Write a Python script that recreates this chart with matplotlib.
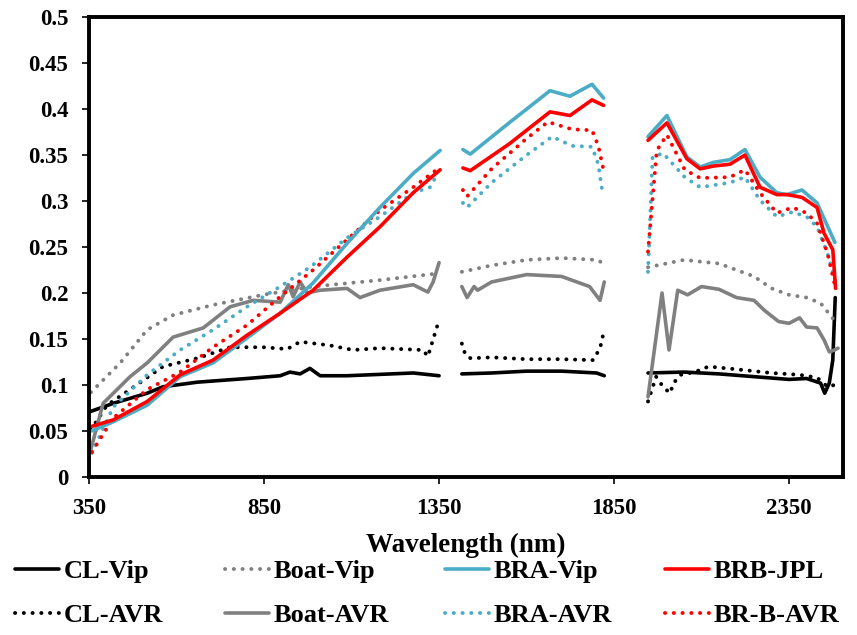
import numpy as np
import matplotlib
matplotlib.use("Agg")
import matplotlib.pyplot as plt

nan = np.nan
# ---- data (wavelength in nm, reflectance); nan marks gaps ----
cl_vip_wl = [353, 419, 516, 561, 659, 801, 896, 924, 953, 981, 1010, 1087, 1276, 1350, nan,
             1415, 1500, 1600, 1700, 1800, 1822, nan,
             1947, 2050, 2150, 2250, 2350, 2400, 2440, 2452, 2465, 2475, 2482]
cl_vip = [0.071, 0.080, 0.091, 0.098, 0.103, 0.107, 0.110, 0.114, 0.112, 0.118, 0.110, 0.110, 0.113, 0.110, nan,
          0.112, 0.113, 0.115, 0.115, 0.113, 0.110, nan,
          0.113, 0.114, 0.112, 0.109, 0.106, 0.107, 0.102, 0.091, 0.102, 0.127, 0.195]

cl_avr_wl = [355, 401, 467, 561, 659, 753, 847, 916, 953, 1038, 1104, 1181, 1304, 1318, 1347, nan,
             1415, 1425, 1440, 1500, 1600, 1700, 1790, 1810, 1822, nan,
             1947, 1960, 1970, 1990, 2010, 2020, 2040, 2080, 2120, 2200, 2300, 2380, 2430, 2460, 2480]
cl_avr = [0.051, 0.078, 0.095, 0.120, 0.129, 0.141, 0.141, 0.139, 0.147, 0.143, 0.138, 0.140, 0.138, 0.131, 0.167, nan,
          0.145, 0.133, 0.129, 0.130, 0.128, 0.128, 0.127, 0.140, 0.160, nan,
          0.082, 0.097, 0.109, 0.098, 0.091, 0.102, 0.111, 0.114, 0.120, 0.117, 0.113, 0.111, 0.108, 0.098, 0.100]

boat_vip_wl = [355, 439, 516, 590, 704, 847, 990, 1181, 1340, nan,
               1415, 1500, 1600, 1700, 1800, 1822, nan,
               1947, 2050, 2150, 2200, 2250, 2300, 2350, 2400, 2440, 2480]
boat_vip = [0.092, 0.124, 0.160, 0.176, 0.187, 0.198, 0.207, 0.214, 0.221, nan,
            0.223, 0.230, 0.236, 0.238, 0.236, 0.232, nan,
            0.228, 0.236, 0.232, 0.225, 0.218, 0.205, 0.198, 0.195, 0.189, 0.170]

boat_avr_wl = [355, 390, 467, 516, 590, 676, 753, 819, 896, 919, 933, 953, 973, 1010, 1087, 1124, 1181, 1276, 1318, 1333, 1350, nan,
               1415, 1430, 1450, 1460, 1500, 1600, 1700, 1780, 1810, 1822, nan,
               1947, 1987, 2007, 2032, 2060, 2100, 2150, 2200, 2250, 2280, 2320, 2350, 2380, 2400, 2430, 2450, 2465, 2480, 2490]
boat_avr = [0.030, 0.080, 0.109, 0.124, 0.152, 0.162, 0.185, 0.192, 0.190, 0.209, 0.196, 0.212, 0.200, 0.203, 0.205, 0.195, 0.203, 0.209, 0.201, 0.212, 0.233, nan,
            0.207, 0.195, 0.207, 0.203, 0.212, 0.220, 0.218, 0.207, 0.192, 0.212, nan,
            0.087, 0.200, 0.138, 0.203, 0.198, 0.207, 0.204, 0.195, 0.192, 0.181, 0.169, 0.167, 0.173, 0.163, 0.162, 0.149, 0.136, 0.138, 0.140]

bra_vip_wl = [358, 419, 516, 610, 704, 801, 896, 990, 1087, 1181, 1276, 1353, nan,
              1418, 1439, 1550, 1667, 1724, 1787, 1820, nan,
              1947, 2001, 2058, 2096, 2133, 2181, 2224, 2267, 2315, 2344, 2387, 2430, 2481]
bra_vip = [0.050, 0.060, 0.078, 0.109, 0.124, 0.151, 0.178, 0.211, 0.254, 0.293, 0.330, 0.355, nan,
           0.356, 0.351, 0.385, 0.420, 0.414, 0.427, 0.412, nan,
           0.370, 0.393, 0.348, 0.337, 0.342, 0.345, 0.356, 0.326, 0.309, 0.307, 0.312, 0.298, 0.255]

brb_jpl_wl = [358, 419, 516, 610, 704, 801, 896, 990, 1087, 1181, 1276, 1353, nan,
              1418, 1439, 1550, 1667, 1724, 1787, 1820, nan,
              1947, 2001, 2058, 2096, 2133, 2181, 2224, 2267, 2315, 2344, 2387, 2430, 2450, 2475, 2483]
brb_jpl = [0.055, 0.062, 0.082, 0.111, 0.127, 0.154, 0.178, 0.203, 0.239, 0.272, 0.309, 0.334, nan,
           0.336, 0.333, 0.362, 0.397, 0.393, 0.410, 0.404, nan,
           0.366, 0.385, 0.346, 0.335, 0.338, 0.340, 0.350, 0.315, 0.307, 0.307, 0.304, 0.293, 0.265, 0.247, 0.205]

bra_avr_wl = [358, 419, 516, 610, 704, 801, 896, 981, 1087, 1181, 1276, 1324, 1340, nan,
              1418, 1430, 1500, 1600, 1673, 1730, 1787, 1805, 1818, nan,
              1947, 1960, 1990, 2052, 2096, 2181, 2224, 2267, 2315, 2360, 2400, 2430, 2460, 2483]
bra_avr = [0.026, 0.076, 0.111, 0.138, 0.160, 0.185, 0.207, 0.228, 0.260, 0.283, 0.309, 0.315, 0.326, nan,
           0.298, 0.293, 0.320, 0.350, 0.370, 0.360, 0.359, 0.340, 0.306, nan,
           0.223, 0.348, 0.352, 0.326, 0.315, 0.320, 0.326, 0.301, 0.283, 0.288, 0.283, 0.272, 0.243, 0.212]

brb_avr_wl = [358, 419, 516, 610, 704, 801, 896, 990, 1087, 1181, 1276, 1343, nan,
              1418, 1430, 1500, 1600, 1661, 1730, 1787, 1805, 1818, nan,
              1947, 1972, 2001, 2052, 2096, 2181, 2224, 2267, 2315, 2360, 2400, 2430, 2460, 2483]
brb_avr = [0.027, 0.064, 0.095, 0.114, 0.141, 0.165, 0.196, 0.225, 0.258, 0.290, 0.315, 0.334, nan,
           0.312, 0.305, 0.335, 0.368, 0.386, 0.378, 0.377, 0.360, 0.337, nan,
           0.245, 0.355, 0.372, 0.334, 0.325, 0.326, 0.334, 0.309, 0.287, 0.293, 0.287, 0.276, 0.243, 0.205]

x_ticks = [350, 850, 1350, 1850, 2350]
y_ticks = [0, 0.05, 0.1, 0.15, 0.2, 0.25, 0.3, 0.35, 0.4, 0.45, 0.5]
y_tick_labels = ["0", "0.05", "0.1", "0.15", "0.2", "0.25", "0.3", "0.35", "0.4", "0.45", "0.5"]

BLACK = "#000000"
GRAY = "#808080"
BLUE = "#4BACC6"
RED = "#FF0000"
DOT = (0, (0.05, 2.2))

plt.rcParams['font.family'] = ['Liberation Serif', 'DejaVu Serif']
plt.rcParams['font.weight'] = 'bold'

fig = plt.figure(figsize=(8.57, 6.35), dpi=100)
ax = fig.add_axes([0.104, 0.249, 0.880, 0.724])

def solid(x, y, c, label):
    return ax.plot(x, y, color=c, lw=2.6, solid_capstyle='round', label=label)[0]

def dotted(x, y, c, label):
    return ax.plot(x, y, color=c, lw=2.8, linestyle=DOT, dash_capstyle='round', label=label)[0]

h_cl_vip = solid(cl_vip_wl, cl_vip, BLACK, "CL-Vip")
h_cl_avr = dotted(cl_avr_wl, cl_avr, BLACK, "CL-AVR")
h_boat_vip = dotted(boat_vip_wl, boat_vip, GRAY, "Boat-Vip")
h_boat_avr = solid(boat_avr_wl, boat_avr, GRAY, "Boat-AVR")
h_bra_avr = dotted(bra_avr_wl, bra_avr, BLUE, "BRA-AVR")
h_brb_avr = dotted(brb_avr_wl, brb_avr, RED, "BR-B-AVR")
h_bra_vip = solid(bra_vip_wl, bra_vip, BLUE, "BRA-Vip")
h_brb_jpl = solid(brb_jpl_wl, brb_jpl, RED, "BRB-JPL")

ax.set_xlim(350, 2505)
ax.set_ylim(0, 0.5)
ax.set_xticks(x_ticks)
ax.set_xticklabels([str(t) for t in x_ticks])
ax.set_yticks(y_ticks)
ax.set_yticklabels(y_tick_labels)
ax.tick_params(axis='both', direction='out', length=5, width=1.2, labelsize=16.5)
ax.tick_params(axis='y', pad=10)
ax.tick_params(axis='x', pad=10)
for lab in ax.get_xticklabels() + ax.get_yticklabels():
    lab.set_fontweight('bold')
for sp in ax.spines.values():
    sp.set_linewidth(2.8)
    sp.set_color('black')
ax.set_xlabel("Wavelength (nm)", fontsize=19.5, fontweight='bold', labelpad=10)

columns = [(h_cl_vip, h_cl_avr), (h_boat_vip, h_boat_avr), (h_bra_vip, h_bra_avr), (h_brb_jpl, h_brb_avr)]
col_x = [15, 225, 445, 665]
for cx, hs in zip(col_x, columns):
    lg = fig.legend(list(hs), [h.get_label() for h in hs], loc='upper left',
                    bbox_to_anchor=(cx / 857, 1 - 560 / 635), frameon=False,
                    handlelength=1.65, handletextpad=0.2, labelspacing=0.75,
                    borderpad=0, borderaxespad=0,
                    prop={'weight': 'bold', 'size': 19})

fig.savefig("out.png", dpi=100)
